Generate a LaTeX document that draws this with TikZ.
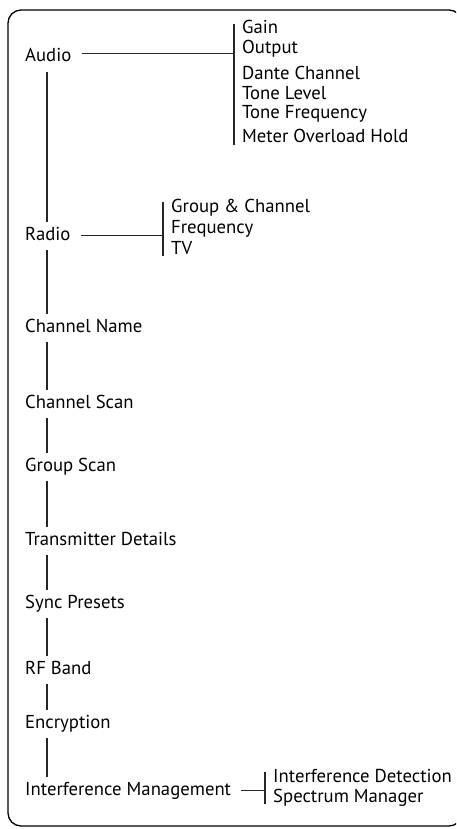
\documentclass[tikz,border=0pt]{standalone}
\usepackage{fontspec}
\setmainfont{PT Sans}
\usetikzlibrary{calc,positioning}

\begin{document}
\begin{tikzpicture}[x=1pt,y=-1pt,
    every node/.style={font=\fontsize{18.7}{22}\selectfont, text=black},
    item/.style={anchor=base west, inner xsep=10pt, inner ysep=6pt, text height=12pt, text depth=3.5pt},
    sub/.style={anchor=base west, inner xsep=8pt, inner ysep=0pt, text height=10pt, text depth=2pt},
    link/.style={line width=1.2pt, black!85}]
    \useasboundingbox (0,0) rectangle (456,829);
    \clip (0,0) rectangle (456,829);

    % Draw frame
    \draw[line width=1.3pt, rounded corners=13pt] (8,10) rectangle (462,826);

    % Draw main menu
    \node[item] (audio)   at (15,62)  {Audio};
    \node[item] (radio)   at (15,240) {Radio};
    \node[item] (chname)  at (15,332) {Channel Name};
    \node[item] (chscan)  at (15,408) {Channel Scan};
    \node[item] (grscan)  at (15,471) {Group Scan};
    \node[item] (txdet)   at (15,545) {Transmitter Details};
    \node[item] (sync)    at (15,608) {Sync Presets};
    \node[item] (rfband)  at (15,674) {RF Band};
    \node[item] (encrypt) at (15,728) {Encryption};
    \node[item] (intmgmt) at (15,795) {Interference Management};

    % Draw spine
    \coordinate (spine) at (47,0);
    \foreach \a/\b in {audio/radio, radio/chname, chname/chscan, chscan/grscan,
        grscan/txdet, txdet/sync, sync/rfband, rfband/encrypt, encrypt/intmgmt}
        \draw[link] (spine |- \a.south) -- (spine |- \b.north);

    % Draw audio submenu
    \node[sub] (gain)  at (234,34)  {Gain};
    \node[sub] (out)   at (234,54)  {Output};
    \node[sub] (dante) at (234,80)  {Dante Channel};
    \node[sub] (tlev)  at (234,100) {Tone Level};
    \node[sub] (tfreq) at (234,119) {Tone Frequency};
    \node[sub] (meter) at (234,143) {Meter Overload Hold};
    \draw[link] (gain.north west) -- (meter.south west);
    \draw[link] ([yshift=4pt]audio.east) -- ([yshift=4pt]audio.east -| gain.west);

    % Draw radio submenu
    \node[sub] (grch) at (163,212) {Group \& Channel};
    \node[sub] (freq) at (163,233) {Frequency};
    \node[sub] (tv)   at (163,254) {TV};
    \draw[link] (grch.north west) -- (tv.south west);
    \draw[link] (radio.east) -- (radio.east -| grch.west);

    % Draw interference submenu
    \node[sub] (intdet) at (265,782) {Interference Detection};
    \node[sub] (spec)   at (265,802) {Spectrum Manager};
    \draw[link] (intdet.north west) -- (spec.south west);
    \draw[link] (intmgmt.east) -- (intmgmt.east -| intdet.west);
\end{tikzpicture}
\end{document}
